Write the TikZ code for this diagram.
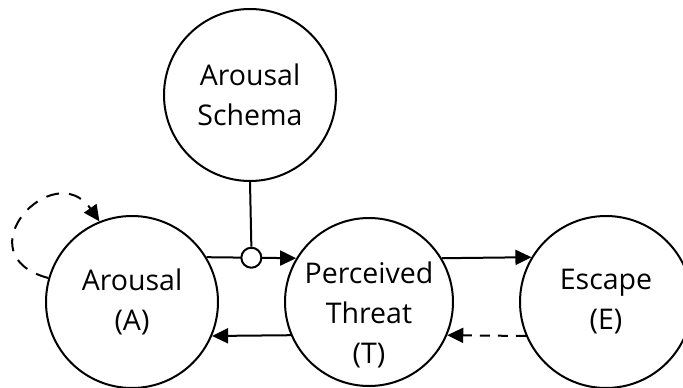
\documentclass[tikz,border=0pt]{standalone}
\usepackage{fontspec}
\setmainfont{Open Sans}
\usetikzlibrary{arrows.meta}
\begin{document}
\begin{tikzpicture}[x = 1pt, y = 1pt, line width = 2pt,
	words/.style = {align = center, font = \fontsize{28.5}{40}\selectfont},
	state/.style = {words, draw, circle, minimum size = 172pt, inner sep = 0pt},
	tip/.style = {-{Triangle[length = 16pt, width = 15pt]}},
	dashes/.style = {dash pattern = on 10pt off 8pt}]
	\useasboundingbox (0,0) rectangle (683,-388);
	\node [state] (S) at (250,-95) {Arousal\\Schema};
	\node [state] (A) at (132,-302) {Arousal\\(A)};
	\node [state, minimum size = 168pt] (T) at (369,-302) {};
	\node [words] (Tlab) at (369,-315) {Perceived\\Threat\\(T)};
	\node [state] (E) at (606,-302) {Escape\\(E)};
	\draw [tip] (A.31) -- node (gate) [circle, draw, fill = white, minimum size = 20pt, inner sep = 0pt] {} (T.149);
	\draw (S.south) -- (gate.north);
	\draw [tip] (T.203) -- (A.337);
	\draw [tip] (T.31) -- (E.149);
	\draw [tip, dashes] (E.203) -- (T.337);
	\draw [tip, dash pattern = on 13pt off 10pt] (A.164) .. controls +(165:90) and +(125:80) .. (A.112);
\end{tikzpicture}
\end{document}
